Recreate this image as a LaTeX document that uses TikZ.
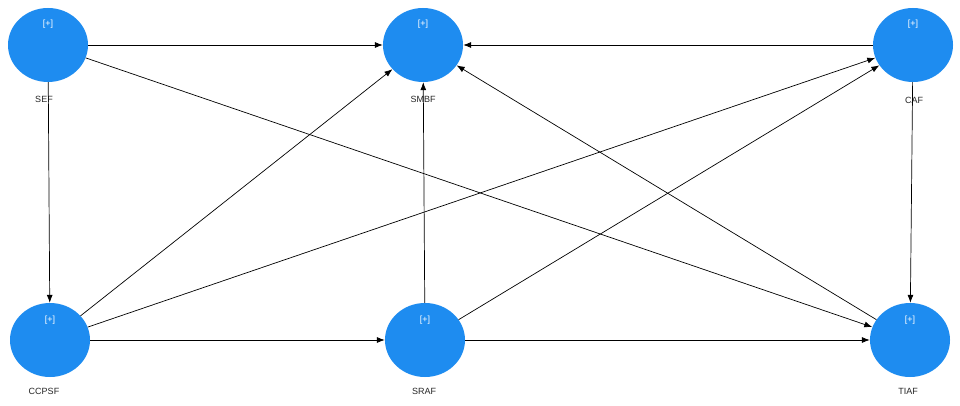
\documentclass[tikz,border=0pt]{standalone}
\usepackage{fontspec}
\setmainfont{Liberation Sans}
\usetikzlibrary{shapes.geometric,arrows.meta}
\definecolor{nb}{HTML}{1E8CF0}
\begin{document}
\begin{tikzpicture}[x=1pt,y=-1pt,
 lv/.style={ellipse,fill=nb,minimum width=80pt,minimum height=74pt,inner sep=0pt},
 plus/.style={text=white,font=\fontsize{9}{10}\selectfont},
 lab/.style={font=\fontsize{9}{10}\selectfont,text=black!85},
 ar/.style={-{Latex[length=8pt,width=6pt]},line width=0.7pt}]
\useasboundingbox[fill=white] (0,0) rectangle (960,406);
\node[lv] (SEF) at (48,45) {}; \node[plus] at (48,24) {[+]};
\node[lv] (SMBF) at (423,45) {}; \node[plus] at (423,24) {[+]};
\node[lv] (CAF) at (913,45) {}; \node[plus] at (913,24) {[+]};
\node[lv] (CCPSF) at (50,340) {}; \node[plus] at (50,320) {[+]};
\node[lv] (SRAF) at (425,340) {}; \node[plus] at (425,320) {[+]};
\node[lv] (TIAF) at (910,340) {}; \node[plus] at (910,320) {[+]};
\node[lab] (l1) at (44,99) {SEF};
\node[lab] (l2) at (423,99) {SMBF};
\node[lab] (l3) at (914,100) {CAF};
\node[lab] (l4) at (44,391) {CCPSF};
\node[lab] (l5) at (424,391) {SRAF};
\node[lab] (l6) at (908,391) {TIAF};
\draw[ar] (SEF) -- (SMBF);
\draw[ar] (SEF) -- (CCPSF);
\draw[ar] (SEF) -- (TIAF);
\draw[ar] (CCPSF) -- (SMBF);
\draw[ar] (CCPSF) -- (CAF);
\draw[ar] (CCPSF) -- (SRAF);
\draw[ar] (SRAF) -- (SMBF);
\draw[ar] (SRAF) -- (CAF);
\draw[ar] (SRAF) -- (TIAF);
\draw[ar] (CAF) -- (SMBF);
\draw[ar] (CAF) -- (TIAF);
\draw[ar] (TIAF) -- (SMBF);
\end{tikzpicture}
\end{document}
